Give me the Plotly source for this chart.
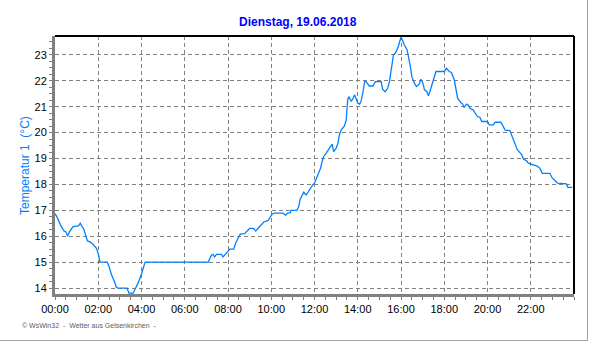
import plotly.graph_objects as go

times = ["00:00","00:05","00:15","00:25","00:30","00:35","00:40","00:50","01:05","01:10","01:12","01:20","01:25","01:30","01:37","01:45","01:55","02:00","02:05","02:25","02:30","02:37","02:45","02:50","02:55","03:20","03:25","03:37","03:42","03:50","04:00","04:05","04:10",
         "07:05","07:14","07:18","07:23","07:28","07:42","07:46","08:00","08:05","08:16","08:21","08:28","08:34","08:46","08:51","09:00","09:11","09:17","09:23","09:30","09:40","09:51","09:57","10:03","10:09","10:32","10:40","10:45","10:53","10:55","11:11","11:16","11:20","11:26","11:30","11:37","11:41","11:48","11:55",
         "12:00","12:06","12:12","12:17","12:20","12:25","12:32","12:41","12:49","12:53","13:00","13:05","13:09","13:14","13:18","13:23","13:28","13:32","13:35","13:42","13:46","13:51","13:55",
         "14:00","14:05","14:09","14:14","14:19","14:23","14:32","14:42","14:49","15:05","15:09","15:16","15:23","15:28","15:32","15:39","15:44","15:51","15:55",
         "16:00","16:03","16:09","16:17","16:21","16:26","16:30","16:37","16:43","16:51","16:55","16:59","17:02","17:05","17:12","17:16","17:20","17:26","17:30","17:37",
         "18:00","18:06","18:14","18:20","18:28","18:32","18:37","18:46","18:51","18:55","19:02","19:07","19:11","19:20","19:26","19:32","19:39","19:44",
         "20:00","20:05","20:16","20:21","20:37","20:43","20:49","21:02","21:07","21:11","21:17","21:23","21:30","21:35","21:40","21:48","21:53",
         "22:00","22:12","22:18","22:25","22:32","22:53","23:00","23:06","23:14","23:39","23:43","23:55"]
temps = [16.87,16.76,16.44,16.2,16.17,16.0,16.17,16.37,16.4,16.5,16.45,16.27,16.04,15.82,15.78,15.7,15.53,15.33,15.0,15.0,14.83,14.5,14.25,14.03,14.0,14.0,13.8,13.8,13.95,14.18,14.54,14.76,15.0,
         15.0,15.27,15.3,15.2,15.3,15.3,15.2,15.4,15.5,15.5,15.73,15.92,16.08,16.1,16.17,16.3,16.3,16.2,16.3,16.4,16.56,16.6,16.76,16.86,16.89,16.89,16.81,16.89,16.91,17.0,17.0,17.14,17.42,17.59,17.7,17.59,17.68,17.85,17.98,
         18.05,18.24,18.43,18.63,18.82,19.07,19.2,19.4,19.56,19.27,19.4,19.59,19.91,20.1,20.19,20.26,20.49,21.26,21.39,21.2,21.3,21.46,21.33,
         21.13,21.1,21.2,21.52,21.97,21.97,21.8,21.8,21.97,21.97,21.68,21.58,21.71,21.97,22.42,23.0,23.06,23.26,23.45,
         23.68,23.6,23.39,23.19,22.94,22.55,22.16,21.91,21.78,21.88,22.06,21.97,21.84,21.65,21.58,21.42,21.58,21.84,22.1,22.36,
         22.36,22.48,22.36,22.32,22.03,21.65,21.33,21.16,21.1,20.98,21.1,21.06,20.94,20.88,20.75,20.62,20.59,20.43,
         20.43,20.3,20.3,20.4,20.4,20.23,20.1,20.08,19.91,19.78,19.59,19.33,19.23,19.14,18.97,18.92,18.82,
         18.79,18.75,18.71,18.63,18.43,18.43,18.24,18.17,18.05,18.02,17.89,17.89]

x_tick_labels = ["00:00","02:00","04:00","06:00","08:00","10:00","12:00","14:00","16:00","18:00","20:00","22:00"]
y_tick_values = [14, 15, 16, 17, 18, 19, 20, 21, 22, 23]

date = "2018-06-19"
x = [f"{date} {t}" for t in times]
x_tick_vals = [f"{date} {t}" for t in x_tick_labels]

title_text = "Dienstag, 19.06.2018"
y_title = "Temperatur 1\u00a0\u00a0(°C)"
footer = "© WsWin32  -  Wetter aus Gelsenkirchen  -"

W, H = 592, 342
L, R, T, B = 55, 18, 36, 48

fig = go.Figure()
fig.add_trace(go.Scatter(x=x, y=temps, mode="lines",
                         line=dict(color="#0080ff", width=1.3), hoverinfo="skip"))

font = "Arial, 'Liberation Sans', sans-serif"
fig.update_layout(
    width=W, height=H,
    margin=dict(l=L, r=R, t=T, b=B),
    paper_bgcolor="white", plot_bgcolor="white",
    showlegend=False,
    font=dict(family=font, size=11, color="#000000"),
    xaxis=dict(type="date", range=["2018-06-19 00:00", "2018-06-20 00:00"],
               tickmode="array", tickvals=x_tick_vals, ticktext=x_tick_labels,
               showgrid=True, gridcolor="#808080", gridwidth=1, griddash="4px,3px",
               showline=True, linecolor="#808080", linewidth=3,
               ticks="outside", ticklen=3, tickcolor="#808080", tickwidth=1,
               minor=dict(dtick=1800000, tick0="2018-06-19 00:00", ticks="outside", ticklen=3,
                          tickcolor="#808080", showgrid=False),
               tickfont=dict(size=11, color="#000000"), zeroline=False, fixedrange=True),
    yaxis=dict(range=[13.77, 23.73], tickmode="array", tickvals=y_tick_values,
               showgrid=True, gridcolor="#808080", gridwidth=1, griddash="4px,3px",
               showline=True, linecolor="#808080", linewidth=3,
               ticks="outside", ticklen=3, tickcolor="#808080", tickwidth=1,
               minor=dict(dtick=0.25, tick0=14, ticks="outside", ticklen=3, tickcolor="#808080", showgrid=False),
               tickfont=dict(size=11, color="#000000"), zeroline=False, fixedrange=True),
)

pw = W - L - R
ph = H - T - B
def px(xp):
    return (xp - L) / pw
def py(yp):
    return (H - B - yp) / ph

shapes = [
    dict(type="line", xref="paper", yref="paper", x0=0, x1=1, y0=1, y1=1,
         line=dict(color="black", width=2)),
    dict(type="line", xref="paper", yref="paper", x0=1, x1=1, y0=0, y1=1,
         line=dict(color="black", width=2)),
    dict(type="line", xref="paper", yref="paper", x0=px(587.5), x1=px(587.5), y0=py(0), y1=py(340.5),
         line=dict(color="#a0a0a0", width=1)),
    dict(type="line", xref="paper", yref="paper", x0=px(0), x1=px(587.5), y0=py(340.5), y1=py(340.5),
         line=dict(color="#a0a0a0", width=1)),
]
fig.update_layout(shapes=shapes)

fig.add_annotation(text=f"<b>{title_text}</b>", xref="paper", yref="paper",
                   x=px(298), y=py(22), showarrow=False, xanchor="center", yanchor="middle",
                   font=dict(family=font, size=12, color="#0000ff"))
fig.add_annotation(text=y_title, xref="paper", yref="paper",
                   x=px(25), y=py(166), showarrow=False, xanchor="center", yanchor="middle",
                   textangle=-90, font=dict(family=font, size=12, color="#0080ff"))
fig.add_annotation(text=footer, xref="paper", yref="paper",
                   x=px(20), y=py(325), showarrow=False, xanchor="left", yanchor="middle",
                   font=dict(family=font, size=7, color="#606060"))

fig.write_html("out.html", config={"displayModeBar": False})
